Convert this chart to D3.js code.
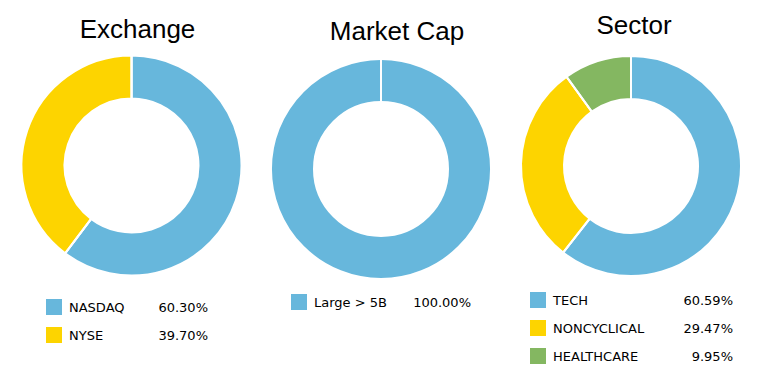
<!DOCTYPE html>
<html>
<head>
<meta charset="utf-8">
<script src="https://cdn.jsdelivr.net/npm/d3@7"></script>
<style>
  body { margin: 0; background: #fff; }
  .title { font-family: Arial, "Liberation Sans", sans-serif; font-size: 26px; fill: #000; }
  .legend text { font-family: Verdana, "DejaVu Sans", sans-serif; font-size: 13px; fill: #000; }
</style>
</head>
<body>
<div id="chart"></div>
<script>
// data
var exchangeLabels = ["NASDAQ", "NYSE"];
var exchangeValues = [60.30, 39.70];

var marketCapLabels = ["Large > 5B"];
var marketCapValues = [100.00];

var sectorLabels = ["TECH", "NONCYCLICAL", "HEALTHCARE"];
var sectorValues = [60.59, 29.47, 9.95];

var sliceColors = ["#67b7dc", "#fdd400", "#84b761"];

// panel layout
var panels = [
  {title: "Exchange",   labels: exchangeLabels,  values: exchangeValues,
   cx: 131.5, cy: 165.5, titleX: 137.5, titleY: 38, legX: 46,  legY: 299, valRight: 208},
  {title: "Market Cap", labels: marketCapLabels, values: marketCapValues,
   cx: 381,   cy: 169,   titleX: 397,   titleY: 40, legX: 291, legY: 294, valRight: 471},
  {title: "Sector",     labels: sectorLabels,    values: sectorValues,
   cx: 631,   cy: 166,   titleX: 634,   titleY: 34, legX: 530, legY: 292, valRight: 733}
];

var width = 767, height = 378;
var outerR = 110, innerR = 67;

var svg = d3.select("#chart")
  .append("svg")
    .attr("width", width)
    .attr("height", height);

var pie = d3.pie().sort(null);
var arc = d3.arc().innerRadius(innerR).outerRadius(outerR);

panels.forEach(function(p) {
  var color = d3.scaleOrdinal().domain(p.labels).range(sliceColors);
  var slices = pie(p.values);

  svg.append("text")
    .attr("class", "title")
    .attr("x", p.titleX)
    .attr("y", p.titleY)
    .attr("text-anchor", "middle")
    .text(p.title);

  var g = svg.append("g")
    .attr("transform", "translate(" + p.cx + "," + p.cy + ")");

  g.selectAll("path")
    .data(slices)
    .enter().append("path")
      .attr("d", arc)
      .attr("fill", function(d, i) { return color(p.labels[i]); })
      .attr("stroke", "#fff")
      .attr("stroke-width", 2);

  // white separators at the start of each slice
  g.selectAll("line.sep")
    .data(slices)
    .enter().append("line")
      .attr("class", "sep")
      .attr("x1", function(d) { return (innerR - 1) * Math.sin(d.startAngle); })
      .attr("y1", function(d) { return -(innerR - 1) * Math.cos(d.startAngle); })
      .attr("x2", function(d) { return (outerR + 1) * Math.sin(d.startAngle); })
      .attr("y2", function(d) { return -(outerR + 1) * Math.cos(d.startAngle); })
      .attr("stroke", "#fff")
      .attr("stroke-width", 2);

  // legend
  var y = d3.scaleBand().domain(p.labels).range([0, 28 * p.labels.length]);
  var leg = svg.append("g")
    .attr("class", "legend")
    .attr("transform", "translate(" + p.legX + "," + p.legY + ")");

  var rows = leg.selectAll("g")
    .data(p.labels)
    .enter().append("g")
      .attr("transform", function(d) { return "translate(0," + y(d) + ")"; });

  rows.append("rect")
    .attr("width", 16)
    .attr("height", 16)
    .attr("fill", function(d) { return color(d); });

  rows.append("text")
    .attr("x", 23)
    .attr("y", 13)
    .text(function(d) { return d; });

  rows.append("text")
    .attr("x", p.valRight - p.legX)
    .attr("y", 13)
    .attr("text-anchor", "end")
    .text(function(d, i) { return p.values[i].toFixed(2) + "%"; });
});
</script>
</body>
</html>
